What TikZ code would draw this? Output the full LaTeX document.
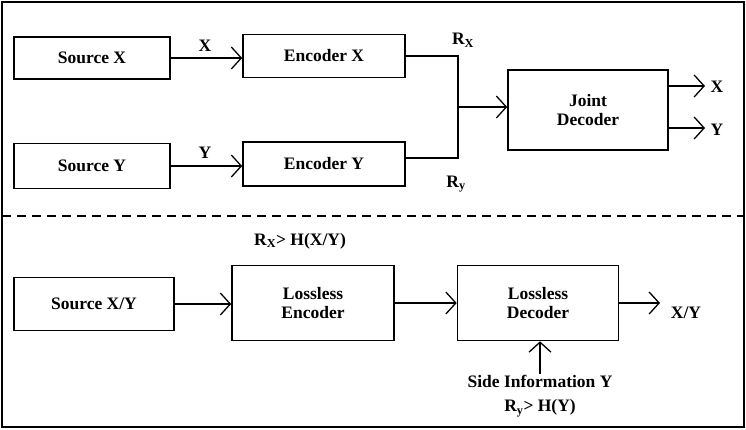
\documentclass[tikz,border=0pt]{standalone}
\usepackage{fontspec}
\setmainfont{Liberation Serif}
\usetikzlibrary{arrows.meta}
\begin{document}
\begin{tikzpicture}[x=1pt,y=-1pt,
 box/.style={draw,line width=1.6pt,inner sep=0pt,align=center,font=\bfseries\fontsize{17.5}{19}\selectfont},
 lbl/.style={font=\bfseries\fontsize{17.5}{19}\selectfont,inner sep=1pt},
 conn/.style={line width=1.3pt,-{Straight Barb[length=10pt,width=22pt,line width=1.3pt]}},
 wire/.style={line width=1.3pt}]
\useasboundingbox (0,0) rectangle (746,429);
\draw[line width=1.3pt] (2,2) rectangle (744,427);
\draw[line width=1.3pt,dash pattern=on 9pt off 6pt] (2,216) -- (744,216);
\node[box,minimum width=156pt,minimum height=42pt] (sx) at (92,58) {Source X};
\node[box,minimum width=162pt,minimum height=43pt] (ex) at (324,56) {Encoder X};
\node[box,minimum width=156pt,minimum height=45pt] (sy) at (92,166) {Source Y};
\node[box,minimum width=162pt,minimum height=44pt] (ey) at (324,164) {Encoder Y};
\node[box,minimum width=160pt,minimum height=80pt] (jd) at (588,110) {Joint\\Decoder};
\draw[conn] (sx.east) -- (sx.east -| ex.west);
\node[lbl] at (205,46) {X};
\draw[conn] (sy.east) -- (sy.east -| ey.west);
\node[lbl] at (205,153) {Y};
\coordinate (j1) at (458,56);
\coordinate (j2) at (458,158);
\coordinate (jm) at (458,107);
\draw[wire] (ex.east) -- (j1) -- (j2) -- (j2 -| ey.east);
\draw[conn] (jm) -- (jm -| jd.west);
\node[lbl] at (463,40) {R\textsubscript{X}};
\node[lbl] at (456,184) {R\textsubscript{y}};
\coordinate (ox) at (705,86);
\coordinate (oy) at (705,128);
\draw[conn] (ox -| jd.east) -- (ox);
\draw[conn] (oy -| jd.east) -- (oy);
\node[lbl] at (717,87) {X};
\node[lbl] at (717,130) {Y};
\node[box,minimum width=160pt,minimum height=53pt] (sxy) at (94,304) {Source X/Y};
\node[box,minimum width=162pt,minimum height=75pt] (le) at (313,303) {Lossless\\Encoder};
\node[box,minimum width=161pt,minimum height=75pt] (ld) at (538,303) {Lossless\\Decoder};
\draw[conn] (sxy.east) -- (sxy.east -| le.west);
\draw[conn] (le.east) -- (ld.west);
\coordinate (out) at (660,303);
\draw[conn] (ld.east) -- (out);
\node[lbl] at (686,313) {X/Y};
\node[lbl] (si) at (540,381) {Side Information Y};
\draw[conn] (si.north) -- (ld.south -| si.north);
\node[lbl] at (540,408) {R\textsubscript{y}> H(Y)};
\node[lbl] at (300,241) {R\textsubscript{X}> H(X/Y)};
\end{tikzpicture}
\end{document}
